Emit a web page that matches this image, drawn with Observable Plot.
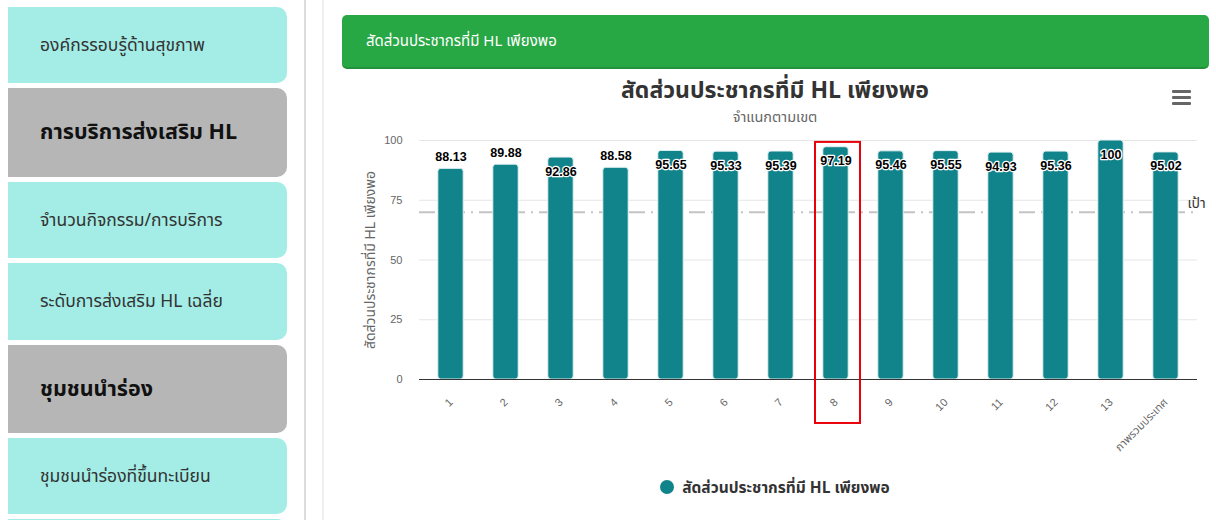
<!DOCTYPE html>
<html><head><meta charset="utf-8">
<script src="https://cdn.jsdelivr.net/npm/d3@7"></script>
<script src="https://cdn.jsdelivr.net/npm/@observablehq/plot@0.6"></script>
<style>
body{margin:0;width:1216px;height:520px;overflow:hidden;background:#fff;position:relative;font-family:"Noto Sans Thai","Leelawadee UI",Tahoma,"Liberation Sans",sans-serif}
.card{position:absolute;left:8px;width:279px;border-radius:0 10px 10px 0;display:flex;align-items:center;padding-left:32px;box-sizing:border-box}
.light{background:#a3ede6;color:#333;font-size:17.5px}
.dark{background:#b6b6b6;color:#111;font-size:21.5px;font-weight:bold}
.vline1{position:absolute;left:304px;top:0;width:2px;height:520px;background:#dcdcdc}
.vline2{position:absolute;left:322px;top:0;width:2px;height:520px;background:#efefef}
.header{position:absolute;left:342px;top:15px;width:867px;height:54px;background:#28a745;border-radius:5px;color:#fff;font-size:15px;display:flex;align-items:center;padding-left:24px;box-sizing:border-box;border-bottom:2px solid #21913b}
.title{position:absolute;left:342px;width:866px;top:76px;text-align:center;font-weight:bold;font-size:23px;color:#333;line-height:30px}
.subtitle{position:absolute;left:342px;width:866px;top:108px;text-align:center;font-size:14.5px;color:#666;line-height:20px}
.menu{position:absolute;left:1172px;width:19px;height:3px;background:#666;border-radius:1px}
#chart{position:absolute;left:342px;top:130px}
.legend{position:absolute;left:342px;width:866px;top:477px;text-align:center;font-size:15.5px;font-weight:bold;color:#333;line-height:24px}
.legend .dot{display:inline-block;width:14px;height:14px;border-radius:50%;background:#10838b;vertical-align:-1px;margin-right:8px}
</style></head>
<body>
<div class="card light" style="top:7px;height:76px">องค์กรรอบรู้ด้านสุขภาพ</div>
<div class="card dark" style="top:88px;height:89px">การบริการส่งเสริม HL</div>
<div class="card light" style="top:182px;height:76px">จำนวนกิจกรรม/การบริการ</div>
<div class="card light" style="top:263px;height:77px">ระดับการส่งเสริม HL เฉลี่ย</div>
<div class="card dark" style="top:345px;height:88px">ชุมชนนำร่อง</div>
<div class="card light" style="top:438px;height:76px">ชุมชนนำร่องที่ขึ้นทะเบียน</div>
<div class="card light" style="top:519px;height:76px"></div>
<div class="vline1"></div><div class="vline2"></div>
<div class="header">สัดส่วนประชากรที่มี HL เพียงพอ</div>
<div class="title">สัดส่วนประชากรที่มี HL เพียงพอ</div>
<div class="subtitle">จำแนกตามเขต</div>
<div class="menu" style="top:90px"></div><div class="menu" style="top:96px"></div><div class="menu" style="top:102px"></div>
<div id="chart"></div>
<div class="legend"><span class="dot"></span>สัดส่วนประชากรที่มี HL เพียงพอ</div>
<script>
const regions = ["1","2","3","4","5","6","7","8","9","10","11","12","13","ภาพรวมประเทศ"];
const values = [88.13, 89.88, 92.86, 88.58, 95.65, 95.33, 95.39, 97.19, 95.46, 95.55, 94.93, 95.36, 100, 95.02];
const yTicks = [0, 25, 50, 75, 100];
const target = 70;
const targetLabel = "เป้า";
const highlighted = ["8"];
const seriesName = "สัดส่วนประชากรที่มี HL เพียงพอ";

const data = regions.map((r, i) => ({region: r, value: values[i]}));
const labelStyle = {fontWeight: "bold", fontSize: 12.5, fill: "#000", stroke: "#fff", strokeWidth: 2.5, paintOrder: "stroke", fontFamily: "Liberation Sans, Arial, sans-serif"};

const chart = Plot.plot({
  width: 874, height: 340,
  marginLeft: 77, marginRight: 19, marginTop: 10, marginBottom: 91,
  style: {fontFamily: "Liberation Sans, Arial, 'Noto Sans Thai', sans-serif", fontSize: "11px", overflow: "visible", background: "transparent"},
  x: {domain: regions, padding: 0},
  y: {domain: [0, 100]},
  marks: [
    Plot.gridY(yTicks, {stroke: "#e6e6e6", strokeOpacity: 1}),
    Plot.axisY(yTicks, {tickSize: 0, tickPadding: 17, fontSize: 11, fill: "#666", label: null}),
    Plot.text([seriesName], {frameAnchor: "left", textAnchor: "middle", rotate: -90, dx: -49, fontSize: 14, fill: "#666", fontFamily: "'Noto Sans Thai', Tahoma, sans-serif"}),
    Plot.axisX({tickSize: 0, tickRotate: -45, tickPadding: 21, fontSize: 11, fill: "#666", label: null}),
    Plot.ruleY([target], {stroke: "#c4c4c4", strokeWidth: 2, strokeDasharray: "16,6,2,6"}),
    Plot.text([targetLabel], {y: [target], frameAnchor: "right", textAnchor: "start", dx: -10, dy: -9, fontSize: 14, fill: "#333", fontFamily: "'Noto Sans Thai', Tahoma, sans-serif"}),
    Plot.barY(data, {x: "region", y: "value", fill: "#10838b", stroke: "#e3f1f1", strokeWidth: 1, insetLeft: 14.8, insetRight: 14.8, rx: 3}),
    Plot.ruleY([0], {stroke: "#333", strokeWidth: 1}),
    Plot.text(data.filter(d => d.value < 91), {x: "region", y: "value", text: d => String(d.value), dy: -12, ...labelStyle}),
    Plot.text(data.filter(d => d.value >= 91), {x: "region", y: "value", text: d => String(d.value), dy: 14, ...labelStyle}),
    Plot.barY(highlighted, {x: d => d, y1: -18.4, y2: 99.2, fill: "none", stroke: "#e8000b", strokeWidth: 2, insetLeft: 7, insetRight: 3})
  ]
});
document.getElementById("chart").appendChild(chart);
</script>
</body></html>
